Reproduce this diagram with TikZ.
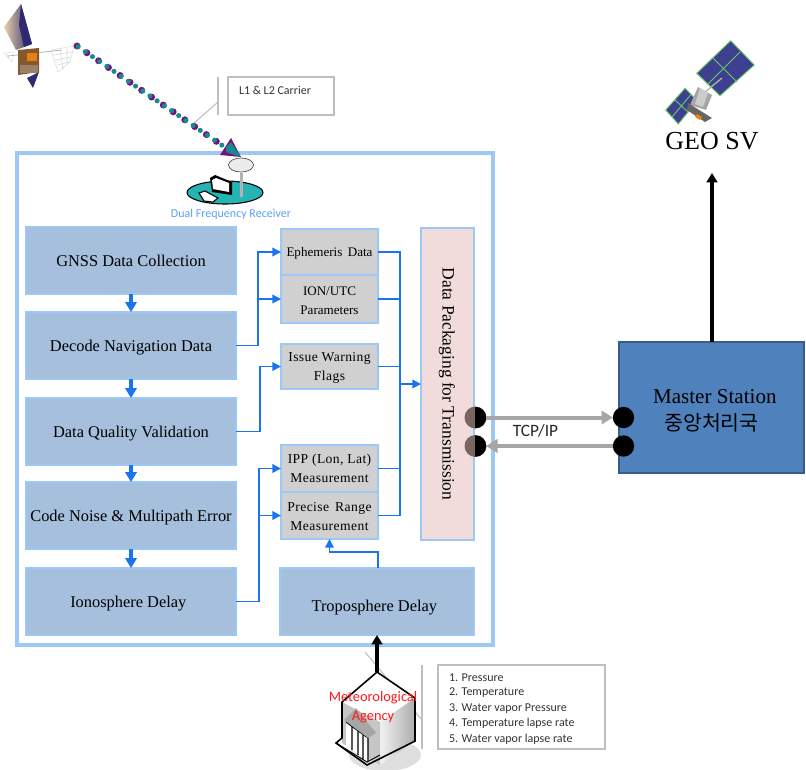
\documentclass[tikz,border=0pt]{standalone}
\usepackage{fontspec}
\setmainfont{Liberation Serif}
\newfontfamily\lab{Carlito}
\newfontfamily\kor{Noto Sans CJK KR}
\newfontfamily\greyf[LetterSpace=3]{Liberation Serif}
\usetikzlibrary{arrows.meta,calc}
\definecolor{edgeblue}{HTML}{9CC8F5}
\definecolor{bluefill}{HTML}{A5BFDD}
\definecolor{greyfill}{HTML}{D0D0D0}
\definecolor{pinkfill}{HTML}{F2DCDB}
\definecolor{masterfill}{HTML}{4F81BD}
\definecolor{masteredge}{HTML}{385D8A}
\definecolor{flow}{HTML}{1A73F0}
\definecolor{linkgrey}{HTML}{A6A6A6}
\definecolor{callgrey}{HTML}{BFBFBF}
\definecolor{teal1}{HTML}{128C8C}
\definecolor{purp}{HTML}{7A0F80}
\definecolor{panel}{HTML}{3F3F8F}
\definecolor{panelg}{HTML}{66CC66}
\definecolor{portback}{HTML}{786560}
\definecolor{tanpanel}{HTML}{E8CFA8}
\definecolor{navypanel}{HTML}{2E2A70}
\tikzset{
  px/.style={inner sep=0pt,outer sep=0pt},
  outerbox/.style={px,draw=edgeblue,line width=2.6pt},
  stepbox/.style={px,draw=edgeblue,line width=1.2pt,fill=bluefill,align=center,text height=10.5pt,text depth=1pt,font=\fontsize{12.3}{15}\selectfont},
  tropobox/.style={stepbox,text height=16.5pt},
  greybox/.style={px,draw=edgeblue,line width=1pt,fill=greyfill,align=center,font=\fontsize{9.8}{14.25}\selectfont},
  greyboxwide/.style={greybox,font=\greyf\fontsize{10.2}{14.25}\selectfont},
  packbox/.style={px,draw=edgeblue,line width=1.6pt,fill=pinkfill},
  masterbox/.style={px,draw=masteredge,line width=1pt,fill=masterfill,align=center,font=\fontsize{15.8}{19.5}\selectfont},
  callbox/.style={px,draw=callgrey,line width=.9pt,fill=white},
  accent/.style={draw=callgrey,line width=.8pt},
  flowline/.style={draw=flow,line width=1.1pt},
  flowarrow/.style={flowline,-{Triangle[length=6.5pt,width=6.5pt]}},
  stepflow/.style={draw=flow,line width=2.5pt,-{Triangle[length=7.5pt,width=8.5pt]}},
  blackarrow/.style={draw=black,line width=2.4pt,-{Triangle[length=7pt,width=8pt]}},
  linkarrow/.style={draw=linkgrey,line width=3pt,-{Triangle[length=8.5pt,width=10pt]}},
  port/.style={circle,px,minimum size=16pt,fill=black},
  smalltext/.style={px,font=\lab\fontsize{9}{11}\selectfont,text=black!80},
}
\newcommand{\bx}[7]{\node[#6,minimum width={(#4-#2)*0.75pt},minimum height={(#5-#3)*0.75pt}] (#1) at ({(#2+#4)/2},{(#3+#5)/2}) {#7};}
\newcommand{\tallstrut}[1]{\rule{0pt}{#1pt}}
\begin{document}
\begin{tikzpicture}[x=0.75pt,y=-0.75pt]
\useasboundingbox (0,0) rectangle (806,769);
% callout accent lines
\draw[accent] (218,77) -- (218,115);
\draw[accent] (218,102) -- (193,124);
\draw[accent] (422,665) -- (422,749);
\draw[accent] (365,652) -- (422,720);
% outer frame
\bx{outer}{17}{153}{493}{645}{outerbox}{}
% left satellite
\begin{scope}
\draw[gray!30,line width=.4pt] (51,50) -- (74,46) -- (70,62) -- (58,72) -- cycle
  (53,55) -- (73,52) (55,60) -- (71,57) (57,65) -- (70,62) (60,50) -- (63,70) (67,48) -- (67,65);
\draw[gray!25,line width=.4pt] (4,53) -- (12,62) -- (14,52) -- cycle (7,54) -- (10,60);
\draw[gray!60,line width=.6pt] (8,56) -- (62,50);
\shade[left color=tanpanel,right color=navypanel] (4,27) -- (21,4) -- (32,44) -- (16,50) -- cycle;
\fill[navypanel] (21,4) -- (32,44) -- (24,47) -- (19,25) -- cycle;
\fill[brown!70!black] (18,50) -- (39,48) -- (39,72) -- (18,75) -- cycle;
\fill[orange!60!brown] (27,53) rectangle (37,61);
\fill[gray!60!brown] (20,65) rectangle (38,73);
\fill[navypanel] (27,78) -- (39,72) -- (33,88) -- cycle;
\end{scope}
% carrier signal
\coordinate (sigA) at (77,46);
\coordinate (sigB) at (226,148);
\draw[purp,line width=5.2pt,line cap=round,dash pattern=on 0pt off 9pt on 0pt off 10.6pt] (sigA) -- (sigB);
\draw[teal1,line width=3.8pt,line cap=round,dash pattern=on 0pt off 6.53pt,dash phase=-1pt] (sigA) -- (sigB);
\fill[purp] (220,155) -- (231,138) -- (241,157) -- cycle;
\fill[teal1] (226,147) -- (231,142) -- (241,157) -- (226,152) -- cycle;
% L1 L2 label
\bx{carrier}{228}{77}{334}{115}{callbox}{}
\node[smalltext,anchor=west] (carriertext) at (239,90) {L1 \& L2 Carrier};
% receiver
\fill[teal!70!cyan!85!white] (225,192.5) ellipse [x radius=38,y radius=11.5];
\draw[black,line width=.8pt] (225,192.5) ellipse [x radius=38,y radius=11.5];
\fill[black] (210,178) -- (215,175) -- (232,182) -- (232,195) -- (212,192) -- cycle;
\fill[white] (212,180) -- (216,178) -- (229,183) -- (229,192) -- (213,189) -- cycle;
\draw[black,line width=.8pt,fill=white] (199,193) -- (205,191) -- (218,198) -- (213,202) -- (204,201) -- cycle;
\fill[gray!60] (240,173) rectangle (243,197);
\fill[gray!15] (241,165) ellipse [x radius=12.5,y radius=7];
\draw[gray!60!black,line width=.5pt] (241,165) ellipse [x radius=12.5,y radius=7];
\node[px,text=flow!70!white,font=\lab\fontsize{9}{11}\selectfont] (rx) at (231,214.5) {Dual Frequency Receiver};
% left steps
\bx{gnss}{26}{227}{236}{294}{stepbox}{GNSS Data Collection}
\bx{decode}{26}{312}{236}{379}{stepbox}{Decode Navigation Data}
\bx{quality}{26}{398}{236}{465}{stepbox}{Data Quality Validation}
\bx{noise}{26}{482}{236}{549}{stepbox}{Code Noise \& Multipath Error}
\bx{iono}{26}{568}{236}{635}{stepbox}{Ionosphere Delay\hspace*{4pt}}
\bx{tropo}{280}{568}{474}{635}{tropobox}{Troposphere Delay\hspace*{4pt}}
% grey boxes
\bx{eph}{281}{229}{378}{275}{greybox}{\tallstrut{9.5}Ephemeris\, Data}
\bx{ion}{281}{275}{378}{323}{greybox}{\tallstrut{9.5}ION/UTC\\Parameters}
\bx{warn}{281}{344}{378}{389}{greyboxwide}{\tallstrut{9.5}Issue Warning\\Flags}
\bx{ipp}{281}{445}{378}{492}{greyboxwide}{IPP (Lon, Lat)\\Measurement}
\bx{range}{281}{492}{378}{539}{greyboxwide}{\tallstrut{8.5}Precise\, Range\\Measurement}
% packaging
\bx{pack}{421}{228}{474}{540}{packbox}{}
\node[px,rotate=-90,font=\fontsize{13.1}{15}\selectfont] (packtext) at (447,384) {Data Packaging for Transmission};
% master
\bx{master}{619}{342}{804}{473}{masterbox}{\tallstrut{15}\hspace*{5pt}Master Station\\[.5pt]{\kor\fontsize{15.4}{19.5}\selectfont 중앙처리국}}
% step arrows
\draw[stepflow] (gnss) -- (decode);
\draw[stepflow] (decode) -- (quality);
\draw[stepflow] (quality) -- (noise);
\draw[stepflow] (noise) -- (iono);
% connectors
\coordinate (j1) at (258,300);
\coordinate (j2) at (260,400);
\coordinate (j3) at (259,500);
\coordinate (j4) at (400,384);
\draw[flowarrow] (decode.east) -- (decode.east -| j1) |- (eph.west);
\draw[flowarrow] (decode.east) -- (decode.east -| j1) |- (ion.west);
\draw[flowarrow] (quality.east) -- (quality.east -| j2) |- (warn.west);
\draw[flowarrow] (iono.east) -- (iono.east -| j3) |- (ipp.west);
\draw[flowarrow] (iono.east) -- (iono.east -| j3) |- (range.west);
\draw[flowline] (eph.east) -| (j4);
\draw[flowline] (ion.east) -| (j4);
\draw[flowline] (warn.east) -| (j4);
\draw[flowline] (ipp.east) -| (j4);
\draw[flowline] (range.east) -| (j4);
\draw[flowarrow] (j4) -- (pack.west |- j4);
\coordinate (tj) at (329.5,552);
\draw[flowarrow] (tropo.north -| range.east) |- (tj) -- (range.south);
% ports and link
\fill[portback] (475.5,417.5) circle [radius=11];
\fill[portback] (475.5,446) circle [radius=11];
\begin{scope}
\clip (475,400) rectangle (490,460);
\node[port] (pa) at (475.5,417.5) {};
\node[port] (pb) at (475.5,446) {};
\end{scope}
\node[port] (ma) at (623.5,417.5) {};
\node[port] (mb) at (623.5,446) {};
\draw[linkarrow] (pa.east) -- (ma.west);
\draw[linkarrow] (mb.west) -- (pb.east);
\node[px,font=\lab\fontsize{13}{15}\selectfont,text=black!85] (tcp) at (535.5,431) {TCP/IP};
% GEO satellite
\begin{scope}
\draw[panelg,fill=panel,line width=.7pt] (730.7,40.7) -- (754.3,65) -- (720,95.7) -- (696.7,73.3) -- cycle;
\draw[panelg,line width=.7pt] (740,52) -- (708,84) (713,58) -- (737,82);
\draw[panelg,fill=panel,line width=.7pt] (685,88.3) -- (697.3,100.7) -- (678.3,124) -- (665.7,110) -- cycle;
\draw[panelg,line width=.7pt] (691,94.5) -- (672,117) (675,100) -- (688,112);
\draw[gray!60,line width=1pt] (722,78) -- (705,92);
\fill[gray!70] (698,87) -- (712,95) -- (706,110) -- (690,105) -- cycle;
\fill[gray!40] (700,88) -- (708,93) -- (703,107) -- (695,104) -- cycle;
\fill[black!60] (688,103) -- (712,118) -- (705,122) -- (687,110) -- cycle;
\fill[orange!80!brown] (697,114) -- (702,117) -- (700,120) -- (695,117) -- cycle;
\end{scope}
\node[px,font=\fontsize{19.5}{22}\selectfont] (geo) at (712,141) {GEO SV};
\coordinate (geotip) at (712,173);
\draw[blackarrow] (master.north -| geotip) -- (geotip);
% building
\coordinate (bldtop) at (377,672);
\fill[gray!25] (385,755) ellipse [x radius=36,y radius=16];
\fill[white] (377,672) -- (415,698) -- (380,722) -- (342,702) -- cycle;
\shade[left color=gray!10,right color=gray!65] (380,722) -- (415,698) -- (415,741) -- (380,765) -- cycle;
\fill[gray!45] (342,702) -- (380,722) -- (380,765) -- (342,743) -- cycle;
\fill[white] (346,722) -- (368,738) -- (368,762) -- (346,745) -- cycle;
\draw[black,line width=.9pt] (346,722) -- (368,738) -- (368,762) (352,726) -- (352,750) (358,730) -- (358,755) (363,734) -- (363,759);
\fill[gray!70] (344,720) -- (356,708) -- (376,733) -- (368,738) -- cycle;
\draw[black,line width=1.2pt] (377,672) -- (415,698) -- (415,741) -- (367,765) -- (336,743) -- (342,738) -- (342,702) -- cycle;
\draw[black,line width=.7pt] (336,743) -- (367,762) -- (380,755);
\draw[blackarrow] (bldtop) -- (bldtop |- tropo.south);
\node[px,text=red!90!white,align=center,font=\lab\fontsize{10.8}{14.5}\selectfont] (agency) at (373,707) {Meteorological\\Agency};
% meteorological list
\bx{list}{438}{665}{605}{749}{callbox}{}
\node[smalltext,anchor=west] (l1) at (449,678) {1. Pressure};
\node[smalltext,anchor=west] (l2) at (449,693) {2. Temperature};
\node[smalltext,anchor=west] (l3) at (449,708.5) {3. Water vapor Pressure};
\node[smalltext,anchor=west] (l4) at (449,723) {4. Temperature lapse rate};
\node[smalltext,anchor=west] (l5) at (449,739) {5. Water vapor lapse rate};
\end{tikzpicture}
\end{document}
